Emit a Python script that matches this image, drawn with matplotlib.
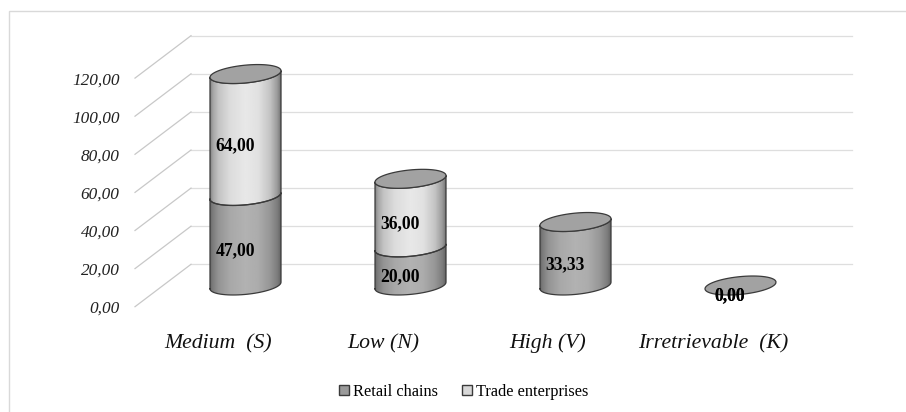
import matplotlib
matplotlib.use("Agg")
import matplotlib.pyplot as plt
import numpy as np
from matplotlib.patches import Patch, PathPatch, Rectangle
from matplotlib.path import Path

categories = ["Medium  (S)", "Low (N)", "High (V)", "Irretrievable  (K)"]
retail_chains = [47.00, 20.00, 33.33, 0.00]
trade_enterprises = [64.00, 36.00, 0.00, 0.00]
axis_ticks = [0, 20, 40, 60, 80, 100, 120]

WIDTH, HEIGHT = 906, 412
PX_PER_UNIT = 1.905
BASE_Y = 285.5
FIRST_X = 245.5
STEP_X = 165.0

# shading across the cylinder, left edge to right edge
SHADE_POS = [0.0, 0.04, 0.12, 0.28, 0.5, 0.68, 0.85, 0.95, 1.0]
DARK_SHADE = [105, 125, 148, 168, 178, 172, 150, 125, 100]
LIGHT_SHADE = [130, 165, 195, 220, 232, 225, 195, 155, 115]
CAP_COLOR = "#a2a2a2"
EDGE = "#3a3a3a"

plt.rcParams["font.family"] = ["Liberation Serif", "DejaVu Serif"]

fig = plt.figure(figsize=(WIDTH / 100, HEIGHT / 100), dpi=100)
ax = fig.add_axes([0, 0, 1, 1])
ax.axis("off")

xlim = (-FIRST_X / STEP_X, (WIDTH - FIRST_X) / STEP_X)
ylim = ((BASE_Y - HEIGHT) / PX_PER_UNIT, BASE_Y / PX_PER_UNIT)

RX = 35.5 / STEP_X        # half width of a cylinder, category units
RY = 8.9 / PX_PER_UNIT    # half height of the cap
TILT = 3.3 / PX_PER_UNIT  # rise of the cap from centre to right end
WALL = 21.2 / PX_PER_UNIT
FRONT = -21.2 / PX_PER_UNIT


def ellipse_pts(i, v, t):
    return np.column_stack([i + RX * np.cos(t), v + TILT * np.cos(t) + RY * np.sin(t)])


def draw_segment(i, v0, v1, shade):
    front = np.linspace(np.pi, 2 * np.pi, 40)
    lower = ellipse_pts(i, v0, front)
    upper = ellipse_pts(i, v1, front)[::-1]
    outline = np.vstack([lower, upper, lower[:1]])
    ramp = np.interp(np.linspace(0, 1, 200), SHADE_POS, shade).reshape(1, -1)
    im = ax.imshow(
        ramp, extent=[i - RX, i + RX, v0 - 15, v1 + 15],
        aspect="auto", cmap="gray", vmin=0, vmax=255,
        interpolation="bilinear", zorder=3,
    )
    im.set_clip_path(Path(outline), ax.transData)
    ax.plot(outline[:, 0], outline[:, 1], color=EDGE, lw=0.9, zorder=4)


def draw_cap(i, v):
    pts = ellipse_pts(i, v, np.linspace(0, 2 * np.pi, 80))
    ax.add_patch(PathPatch(Path(pts), facecolor=CAP_COLOR, edgecolor=EDGE, lw=0.9, zorder=5))


# frame of the chart area, runs off the bottom and right
ax.add_patch(Rectangle((-FIRST_X / STEP_X + 8.5 / STEP_X, ylim[0] - 20),
                       10, ylim[1] - 11 / PX_PER_UNIT - ylim[0] + 20,
                       facecolor="none", edgecolor="#d9d9d9", lw=1.0, zorder=1))

# back wall gridlines and the slanted floor lines leading to the tick labels
wall_x0 = (191 - FIRST_X) / STEP_X
wall_x1 = (851.5 - FIRST_X) / STEP_X
front_x = (135 - FIRST_X) / STEP_X
label_x = (119.5 - FIRST_X) / STEP_X
for tick in axis_ticks:
    ax.plot([wall_x0, wall_x1], [tick + WALL, tick + WALL], color="#dedede", lw=0.9, zorder=1)
    ax.plot([front_x, wall_x0], [tick + FRONT, tick + WALL], color="#c8c8c8", lw=0.9, zorder=1)
    ax.text(label_x, tick + FRONT - 1.2, f"{tick:.2f}".replace(".", ","), ha="right", va="center",
            style="italic", fontsize=12.4, color="#222222")

for i, name in enumerate(categories):
    ax.text(i - 27.5 / STEP_X, -30.5, name, ha="center", va="center", style="italic",
            fontsize=15.7, color="#111111")

for i, (retail, trade) in enumerate(zip(retail_chains, trade_enterprises)):
    top = retail + trade
    if retail > 0:
        draw_segment(i, 0, retail, DARK_SHADE)
    if trade > 0:
        draw_segment(i, retail, top, LIGHT_SHADE)
    draw_cap(i, top)

    # value labels sit left of and below the middle of each segment
    lab_x = i - 10.5 / STEP_X
    lab_dy = -10.5 / PX_PER_UNIT
    for start, val in ((0, retail), (retail, trade)):
        if val > 0 or (start == 0 and top == 0):
            ax.text(lab_x, start + val / 2 + lab_dy, f"{val:.2f}".replace(".", ","),
                    ha="center", va="center", fontweight="bold", fontsize=12.7, color="black", zorder=6)

legend_handles = [
    Patch(facecolor="#9a9a9a", edgecolor=EDGE, label="Retail chains"),
    Patch(facecolor="#d8d8d8", edgecolor=EDGE, label="Trade enterprises"),
]
ax.legend(handles=legend_handles, loc="center", bbox_to_anchor=(464 / WIDTH, 1 - 391.5 / HEIGHT),
          ncol=2, frameon=False, fontsize=11.8, handlelength=0.6, handleheight=0.6,
          handletextpad=0.25, columnspacing=1.45, borderpad=0)

ax.set_xlim(xlim)
ax.set_ylim(ylim)
fig.savefig("out.png", dpi=100, facecolor="white")
